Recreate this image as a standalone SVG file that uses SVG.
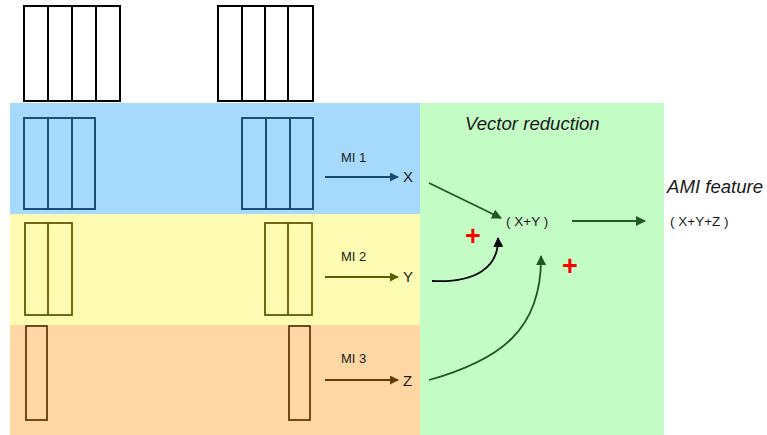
<svg xmlns="http://www.w3.org/2000/svg" width="767" height="435" viewBox="0 0 767 435">
<defs>
<style>
text{font-family:"Liberation Sans",Arial,sans-serif;fill:#1a1a1a}
.lbl{font-size:13px}
.var{font-size:15px}
.it{font-style:italic;font-size:18.6px}
.sum{font-size:13.5px}
.plus{fill:#ff0000;font-size:27px;font-weight:bold}
.bk{fill:#fff;stroke:#000;stroke-width:2}
.bl{fill:none;stroke:#0f3f66;stroke-width:1.8}
.yl{fill:none;stroke:#5c5c00;stroke-width:1.8}
.or{fill:none;stroke:#66390c;stroke-width:1.8}
</style>
<marker id="aBlue" viewBox="0 0 10 10" refX="9" refY="5" markerWidth="9" markerHeight="9" markerUnits="userSpaceOnUse" orient="auto"><path d="M0,0L10,5L0,10z" fill="#164a73"/></marker>
<marker id="aOlive" viewBox="0 0 10 10" refX="9" refY="5" markerWidth="9" markerHeight="9" markerUnits="userSpaceOnUse" orient="auto"><path d="M0,0L10,5L0,10z" fill="#5c5c00"/></marker>
<marker id="aBrown" viewBox="0 0 10 10" refX="9" refY="5" markerWidth="9" markerHeight="9" markerUnits="userSpaceOnUse" orient="auto"><path d="M0,0L10,5L0,10z" fill="#66390c"/></marker>
<marker id="aGreen" viewBox="0 0 10 10" refX="9" refY="5" markerWidth="10" markerHeight="10" markerUnits="userSpaceOnUse" orient="auto"><path d="M0,0L10,5L0,10z" fill="#1d5a1d"/></marker>
<marker id="aBlack" viewBox="0 0 10 10" refX="9" refY="5" markerWidth="10" markerHeight="10" markerUnits="userSpaceOnUse" orient="auto"><path d="M0,0L10,5L0,10z" fill="#000"/></marker>
</defs>
<rect width="767" height="435" fill="#fff"/>
<g id="bands">
<rect x="10" y="103" width="410" height="111" fill="#a6dafc"/>
<rect x="10" y="214" width="410" height="111" fill="#fefcb2"/>
<rect x="10" y="325" width="410" height="110" fill="#fed7a4"/>
<rect x="420" y="103" width="244" height="332" fill="#c4fcc6"/>
</g>
<g id="input1">
<rect class="bk" x="24" y="6" width="96" height="95"/>
<path class="bk" d="M48,6V101M72,6V101M96,6V101"/>
</g>
<g id="input2">
<rect class="bk" x="218" y="6" width="95" height="95"/>
<path class="bk" d="M242,6V101M265,6V101M288,6V101"/>
</g>
<g id="blue1">
<rect class="bl" x="24" y="118" width="71" height="91"/>
<path class="bl" d="M48,118V209M72,118V209"/>
</g>
<g id="blue2">
<rect class="bl" x="242" y="118" width="71" height="91"/>
<path class="bl" d="M266,118V209M290,118V209"/>
</g>
<g id="yellow1">
<rect class="yl" x="25" y="223" width="47" height="92"/>
<path class="yl" d="M48,223V315"/>
</g>
<g id="yellow2">
<rect class="yl" x="265" y="223" width="47" height="92"/>
<path class="yl" d="M288,223V315"/>
</g>
<g id="orange1">
<rect class="or" x="26" y="326" width="21" height="94"/>
</g>
<g id="orange2">
<rect class="or" x="289" y="326" width="21" height="94"/>
</g>
<g id="labels">
<text class="lbl" x="341" y="162">MI 1</text>
<text class="lbl" x="341" y="261">MI 2</text>
<text class="lbl" x="341" y="363">MI 3</text>
</g>
<g id="nodeX"><text class="var" x="403" y="182">X</text></g>
<g id="nodeY"><text class="var" x="403" y="282">Y</text></g>
<g id="nodeZ"><text class="var" x="403" y="386">Z</text></g>
<g id="title"><text class="it" x="465" y="130">Vector reduction</text></g>
<g id="nodeXY"><text class="sum" x="506" y="226">( X+Y )</text></g>
<g id="ami"><text class="it" x="667" y="193">AMI feature</text></g>
<g id="nodeXYZ"><text class="sum" x="670" y="226">( X+Y+Z )</text></g>
<g id="plus1"><text class="plus" x="473" y="245" text-anchor="middle">+</text></g>
<g id="plus2"><text class="plus" x="570" y="275" text-anchor="middle">+</text></g>
<g id="connectors" fill="none" stroke-width="1.8">
<path d="M325,177H398" stroke="#164a73" marker-end="url(#aBlue)"/>
<path d="M325,277H398" stroke="#5c5c00" marker-end="url(#aOlive)"/>
<path d="M325,380H398" stroke="#66390c" marker-end="url(#aBrown)"/>
<path d="M429,183L501,218" stroke="#1d5a1d" marker-end="url(#aGreen)"/>
<path d="M432,281C475,283 499,268 498,238" stroke="#000" marker-end="url(#aBlack)"/>
<path d="M429,380C500,360 542,330 541,256" stroke="#1d5a1d" marker-end="url(#aGreen)"/>
<path d="M572,221H645" stroke="#1d5a1d" marker-end="url(#aGreen)"/>
</g>
</svg>
